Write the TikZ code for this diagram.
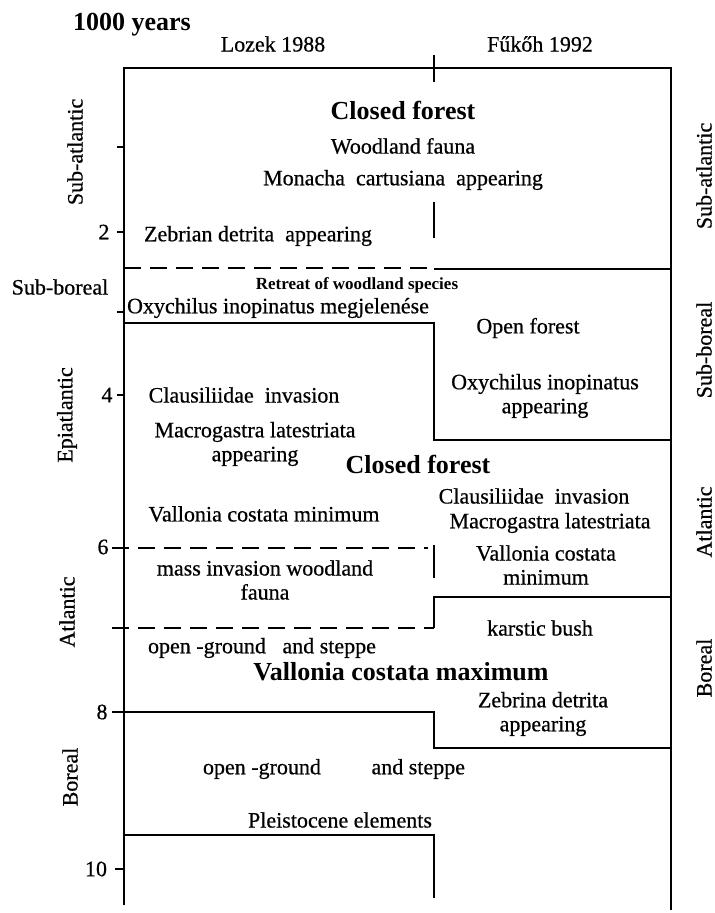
\documentclass[tikz,border=0pt]{standalone}
\usepackage{fontspec}
\setmainfont{Liberation Serif}[UprightFeatures={FakeBold=0.6}]
\usepackage{tikz}
\usetikzlibrary{positioning}

\begin{document}
\begin{tikzpicture}[x=0.5pt, y=-0.5pt, line width=0.9pt,
    txt/.style={font=\fontsize{11}{12}\selectfont, align=center, inner sep=0pt},
    big/.style={font=\fontsize{13}{14}\selectfont\bfseries, align=center, inner sep=0pt},
    side/.style={txt, rotate=90},
    dashline/.style={dash pattern=on 8.5pt off 4.5pt}]
    \useasboundingbox (0,0) rectangle (715,913);

    % headings
    \node[big] (years) at (132,25) {1000 years};
    \node[txt] (lozek) at (273,44) {Lozek 1988};
    \node[txt] (fukoh) at (540,44) {Fűkőh 1992};

    % frame and axis
    \draw (124,905) -- (124,68) -- (671,68) -- (671,910);
    \draw (434,55) -- (434,82);
    \draw (434,202) -- (434,238);
    \draw[dashline] (124,268) -- (434,268);
    \draw (434,269) -- (671,269);
    \draw (124,323) -- (434,323) -- (434,440) -- (671,440);
    \draw[dashline] (112,548) -- (428,548);
    \draw (434,545) -- (434,578);
    \draw[dashline] (112,628) -- (434,628);
    \draw (434,628) -- (434,597) -- (671,597);
    \draw (112,712) -- (434,712) -- (434,748) -- (671,748);
    \draw (124,835) -- (434,835) -- (434,898);

    % ticks
    \draw (117,147) -- (124,147);
    \draw (117,232) -- (124,232);
    \draw (117,312) -- (124,312);
    \draw (117,395) -- (124,395);
    \draw (115,869) -- (124,869);
    \node[txt] (t2) at (104,232) {2};
    \node[txt] (t4) at (107,395) {4};
    \node[txt] (t6) at (103,547) {6};
    \node[txt] (t8) at (102,712) {8};
    \node[txt] (t10) at (96,869) {10};

    % periods, Lozek
    \node[side] (lsa) at (75,152) {Sub-atlantic};
    \node[txt] (lsb) at (60,287) {Sub-boreal};
    \node[side] (lep) at (67,415) {Epiatlantic};
    \node[side] (lat) at (67,612) {Atlantic};
    \node[side] (lbo) at (70,777) {Boreal};
    % periods, Fukoh
    \node[side] (rsa) at (704,176) {Sub-atlantic};
    \node[side] (rsb) at (704,350) {Sub-boreal};
    \node[side] (rat) at (704,522) {Atlantic};
    \node[side] (rbo) at (704,668) {Boreal};

    % contents
    \node[big] (closed1) at (403,110) {Closed forest};
    \node[txt] (fauna) at (403,146) {Woodland fauna};
    \node[txt] (monacha) at (403,180) {Monacha\ \ cartusiana\ \ appearing};
    \node[txt] (zebrian) at (258,236) {Zebrian detrita\ \ appearing};
    \node[txt, font=\fontsize{8.5}{9}\selectfont\bfseries] (retreat) at (357,285) {Retreat of woodland species};
    \node[txt] (oxymeg) at (278,308) {Oxychilus inopinatus megjelenése};
    \node[txt] (openf) at (528,328) {Open forest};
    \node[txt] (oxyapp) at (545,396) {Oxychilus inopinatus\\appearing};
    \node[txt] (claus1) at (244,395) {Clausiliidae\ \ invasion};
    \node[txt] (macro1) at (255,444) {Macrogastra latestriata\\appearing};
    \node[big] (closed2) at (418,464) {Closed forest};
    \node[txt] (claus2) at (534,496) {Clausiliidae\ \ invasion};
    \node[txt] (macro2) at (550,523) {Macrogastra latestriata};
    \node[txt] (vmin2) at (546,565) {Vallonia costata\\minimum};
    \node[txt] (vmin1) at (264,514) {Vallonia costata minimum};
    \node[txt] (mass) at (265,580) {mass invasion woodland\\fauna};
    \node[txt] (karst) at (540,628) {karstic bush};
    \node[txt] (open1) at (262,648) {open -ground\ \ \ and steppe};
    \node[big] (vmax) at (401,672) {Vallonia costata maximum};
    \node[txt] (zebrina) at (543,714) {Zebrina detrita\\appearing};
    \node[txt] (open2) at (334,769) {open -ground\hspace{2.3em}and steppe};
    \node[txt] (pleist) at (340,820) {Pleistocene elements};
\end{tikzpicture}
\end{document}
